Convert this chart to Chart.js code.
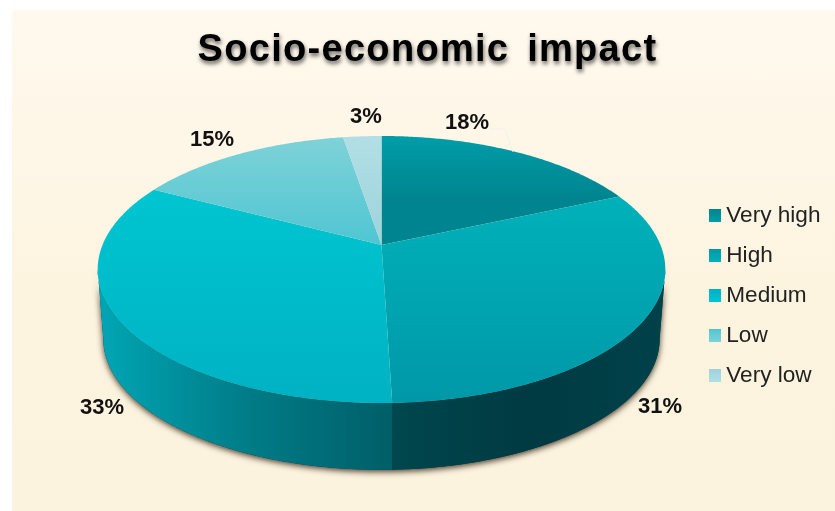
<!DOCTYPE html>
<html>
<head>
<meta charset="utf-8">
<title>Socio-economic impact</title>
<script src="https://cdn.jsdelivr.net/npm/chart.js@4/dist/chart.umd.min.js"></script>
<style>
  html, body { margin: 0; padding: 0; background: #fff; overflow: hidden; }
  #panel {
    position: absolute; left: 12px; top: 10px; right: 0; bottom: 0;
    background: linear-gradient(#fff9ee, #fdf4e0 55%, #fcf3de);
  }
  #chart { position: absolute; left: 0; top: 0; }
</style>
</head>
<body>
<div id="panel"></div>
<canvas id="chart" width="835" height="511"></canvas>
<script>
const titleText  = 'Socio-economic impact';
const categories = ['Very high', 'High', 'Medium', 'Low', 'Very low'];
// the labels show them rounded
const values     = [18.4, 31.1, 33.2, 14.7, 2.6];

// vertical shading of each slice top, [upper, lower]
const topShades  = [['#009da8', '#00848f'], ['#00b2ba', '#0098a8'], ['#00c5d1', '#00b2c3'], ['#7fd2d8', '#4fc6d2'], ['#b2dfe5', '#9dd3dc']];
// horizontal shading of the visible rim
const sideShades = {
    1: ['#00474e', '#003a42', '#00424a'],
    2: ['#00a6b5', '#007d88', '#005e68'],
};

// perspective of the disc: centre of the pie, half sizes and tilt
const pie = { cx: 381.5, cy: 245, a: 279, b: 129, tilt: -0.1835, depth: 70, shrink: 0.98 };

// label spots were placed by hand in the original chart
const labelSpots = [[467, 123], [660, 407], [102, 408], [212, 140], [366, 117]];

// angles where the disc is widest, the rim is only seen between them
const rimFrom = Math.asin(-pie.tilt);
const rimTo   = Math.PI - rimFrom;

function project(ang, bottom) {
    const u = Math.cos(ang), v = Math.sin(ang);
    const den = 1 + pie.tilt * v;
    const s = bottom ? pie.shrink : 1;
    return [
        pie.cx + s * pie.a * u / den,
        pie.cy + (bottom ? pie.depth : 0) + s * pie.b * v / den
    ];
}

function rimPath(ctx, from, to, bottom, move) {
    const steps = Math.max(2, Math.ceil(Math.abs(to - from) / 0.01));
    for (let i = 0; i <= steps; i++) {
        const p = project(from + (to - from) * i / steps, bottom);
        if (i === 0 && move) ctx.moveTo(p[0], p[1]);
        else ctx.lineTo(p[0], p[1]);
    }
}

const disc3d = {
    id: 'disc3d',
    afterLayout(chart) {
        // legend sits lower and further left than the layout puts it
        const lg = chart.legend;
        lg.left -= 4.5; lg.right -= 4.5;
        lg.top += 40; lg.bottom += 40;
    },
    beforeDraw(chart) {
        // title has a soft shadow and wide tracking
        const tb = chart.titleBlock;
        if (tb && !tb.wrapped) {
            const orig = tb.draw.bind(tb);
            tb.draw = () => {
                const c = chart.ctx;
                c.save();
                c.shadowColor = 'rgba(0,0,0,0.6)';
                c.shadowBlur = 4;
                c.shadowOffsetX = 1;
                c.shadowOffsetY = 3;
                c.letterSpacing = '1.3px';
                c.wordSpacing = '6px';
                orig();
                c.restore();
            };
            tb.wrapped = true;
        }
    },
    beforeDatasetsDraw(chart) {
        const ctx = chart.ctx;
        const arcs = chart.getDatasetMeta(0).data;

        // shadow under the body
        ctx.save();
        ctx.shadowColor = 'rgba(50,35,20,0.9)';
        ctx.shadowBlur = 6;
        ctx.shadowOffsetY = 2;
        ctx.fillStyle = '#004048';
        ctx.beginPath();
        rimPath(ctx, rimFrom, rimTo, true, true);
        rimPath(ctx, rimTo, rimFrom, false, false);
        ctx.closePath();
        ctx.fill();
        ctx.restore();

        // rim
        arcs.forEach((arc, i) => {
            const shade = sideShades[i];
            if (!shade) return;
            const from = Math.max(arc.startAngle, rimFrom);
            const to = Math.min(arc.endAngle, rimTo);
            if (to <= from) return;
            const x0 = i === 1 ? project(arc.endAngle, false)[0] : pie.cx - 284;
            const x1 = i === 1 ? pie.cx + 284 : project(arc.startAngle, false)[0];
            const g = ctx.createLinearGradient(x0, 0, x1, 0);
            g.addColorStop(0, shade[0]);
            g.addColorStop(0.5, shade[1]);
            g.addColorStop(1, shade[2]);
            ctx.fillStyle = g;
            ctx.beginPath();
            rimPath(ctx, from, to, false, true);
            rimPath(ctx, to, from, true, false);
            ctx.closePath();
            ctx.fill();
        });

        // top faces
        arcs.forEach((arc, i) => {
            const g = ctx.createLinearGradient(0, i < 1 || i > 2 ? 136 : 190, 0, i === 0 ? 200 : i > 2 ? 245 : 403);
            g.addColorStop(0, topShades[i][0]);
            g.addColorStop(1, topShades[i][1]);
            ctx.fillStyle = g;
            ctx.beginPath();
            ctx.moveTo(pie.cx, pie.cy);
            rimPath(ctx, arc.startAngle, arc.endAngle, false, false);
            ctx.closePath();
            ctx.fill();
        });
        return false; // the disc above replaces the flat arcs
    },
    afterDraw(chart) {
        const ctx = chart.ctx;
        ctx.save();
        // faint leader of the first label
        ctx.strokeStyle = '#f3f1ea';
        ctx.lineWidth = 1;
        ctx.beginPath();
        ctx.moveTo(490, 129);
        ctx.lineTo(505, 129);
        ctx.lineTo(513, 152);
        ctx.stroke();

        ctx.fillStyle = '#111';
        ctx.font = 'bold 22px "Liberation Sans", Arial, sans-serif';
        ctx.textAlign = 'center';
        ctx.textBaseline = 'middle';
        values.forEach((v, i) => {
            ctx.fillText(Math.round(v) + '%', labelSpots[i][0], labelSpots[i][1]);
        });
        ctx.restore();
    }
};

function swatch(i) {
    const c = document.createElement('canvas');
    c.width = 12; c.height = 13;
    const x = c.getContext('2d');
    const g = x.createLinearGradient(0, 0, 0, 13);
    g.addColorStop(0, topShades[i][1]);
    g.addColorStop(1, topShades[i][0]);
    x.fillStyle = g;
    x.fillRect(0, 0, 12, 13);
    return c;
}
const swatches = categories.map((_, i) => swatch(i));

new Chart(document.getElementById('chart'), {
    type: 'pie',
    data: {
        labels: categories,
        datasets: [{
            data: values,
            backgroundColor: topShades.map(s => s[1]),
            borderWidth: 0
        }]
    },
    options: {
        responsive: false,
        animation: false,
        layout: { padding: { left: 20, right: 0 } },
        plugins: {
            tooltip: { enabled: false },
            title: {
                display: true,
                text: titleText,
                color: '#000',
                font: { family: '"Liberation Sans", Arial, sans-serif', size: 38, weight: 'bold' },
                padding: { top: 28, bottom: 4 }
            },
            legend: {
                position: 'right',
                labels: {
                    color: '#222',
                    font: { family: '"Liberation Sans", Arial, sans-serif', size: 22.6 },
                    usePointStyle: true,
                    pointStyleWidth: 0.5,
                    boxHeight: 12,
                    padding: 17.4,
                    generateLabels(chart) {
                        return Chart.overrides.pie.plugins.legend.labels.generateLabels(chart)
                            .map((l, i) => ({ ...l, pointStyle: swatches[i] }));
                    }
                }
            }
        }
    },
    plugins: [disc3d]
});
</script>
</body>
</html>
